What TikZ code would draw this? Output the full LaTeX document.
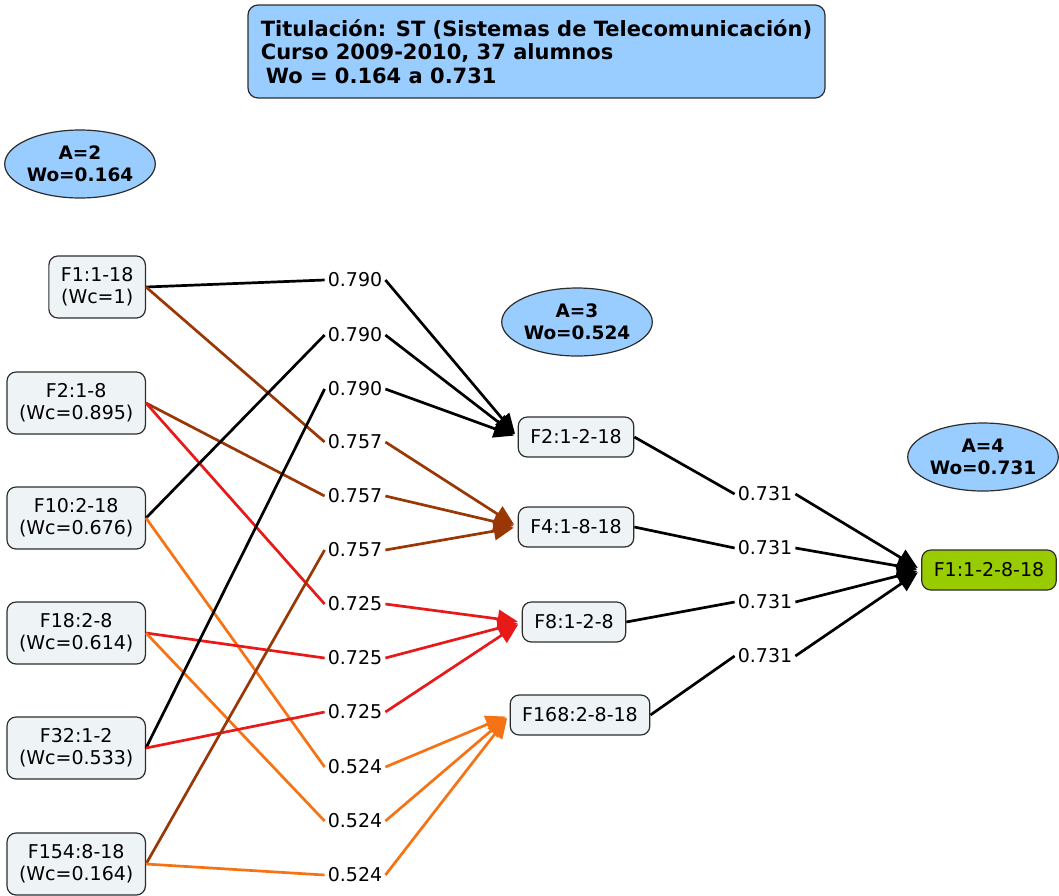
\documentclass[tikz,border=0pt]{standalone}
\usepackage{fontspec}
\setmainfont{DejaVu Sans}
\usetikzlibrary{shapes.geometric, arrows.meta, positioning}
\definecolor{cHeadFill}{RGB}{153, 204, 255}
\definecolor{cBoxFill}{RGB}{238, 243, 246}
\definecolor{cBoxDraw}{RGB}{45, 45, 45}
\definecolor{cFinalFill}{RGB}{153, 204, 0}
\definecolor{cBrown}{RGB}{153, 55, 5}
\definecolor{cRed}{RGB}{232, 25, 25}
\definecolor{cOrange}{RGB}{245, 115, 20}
\tikzset{
    font=\fontsize{19}{22}\selectfont,
    % --- cajas ---
    header/.style={
        rectangle, draw=cBoxDraw, line width=1.2pt, fill=cHeadFill,
        rounded corners=10pt, align=left,
        font=\fontsize{21}{23.5}\selectfont\bfseries,
        minimum width=577pt, minimum height=93pt
    },
    levelTag/.style={
        ellipse, draw=cBoxDraw, line width=1.2pt, fill=cHeadFill,
        align=center, font=\fontsize{18.5}{22}\selectfont\bfseries,
        minimum width=146pt, minimum height=68pt, inner sep=0pt
    },
    fsetBox/.style={
        rectangle, draw=cBoxDraw, line width=1.2pt, fill=cBoxFill,
        rounded corners=9pt, align=center,
        inner xsep=12pt, minimum height=62pt
    },
    fsetSmall/.style={ fsetBox, minimum height=40pt },
    fsetFinal/.style={ fsetSmall, fill=cFinalFill },
    %
    % --- pesos y lineas ---
    wLabel/.style={ inner sep=3pt },
    link/.style={ line width=2.7pt },
    linkArrow/.style={
        link, -{Triangle[length=20pt, width=18pt]}, shorten >=4pt
    }
}

\begin{document}
\begin{tikzpicture}[x=1pt, y=-1pt]
	\useasboundingbox (0,0) rectangle (1059,895);

	% =========================================
	% 1. Cabecera y niveles
	% =========================================
	\node[header] (title) at (536.5,51.5) {
		Titulación: ST (Sistemas de Telecomunicación)\\
		Curso 2009-2010, 37 alumnos\\
		\hspace{5pt}Wo = 0.164 a 0.731
	};

	\node[levelTag, minimum width=148pt] (lvl2) at (80,164) {A=2\\Wo=0.164};
	\node[levelTag] (lvl3) at (577,322) {A=3\\Wo=0.524};
	\node[levelTag, minimum width=134pt] (lvl4) at (983,457) {A=4\\Wo=0.731};

	% =========================================
	% 2. Conjuntos de partida (A=2)
	% =========================================
	\node[fsetBox, anchor=east] (f1) at (146,287) {F1:1-18\\(Wc=1)};
	\node[fsetBox, anchor=east] (f2) at (146,403) {F2:1-8\\(Wc=0.895)};
	\node[fsetBox, anchor=east] (f10) at (146,518) {F10:2-18\\(Wc=0.676)};
	\node[fsetBox, anchor=east] (f18) at (146,633) {F18:2-8\\(Wc=0.614)};
	\node[fsetBox, anchor=east] (f32) at (146,748) {F32:1-2\\(Wc=0.533)};
	\node[fsetBox, anchor=east] (f154) at (146,864) {F154:8-18\\(Wc=0.164)};

	% --- pesos intermedios ---
	\node[wLabel] (w790a) at (355,280) {0.790};
	\node[wLabel] (w790b) at (355,335) {0.790};
	\node[wLabel] (w790c) at (355,389) {0.790};
	\node[wLabel] (w757a) at (355,442) {0.757};
	\node[wLabel] (w757b) at (355,496) {0.757};
	\node[wLabel] (w757c) at (355,550) {0.757};
	\node[wLabel] (w725a) at (355,604) {0.725};
	\node[wLabel] (w725b) at (355,658) {0.725};
	\node[wLabel] (w725c) at (355,712) {0.725};
	\node[wLabel] (w524a) at (355,767) {0.524};
	\node[wLabel] (w524b) at (355,821) {0.524};
	\node[wLabel] (w524c) at (355,875) {0.524};

	% =========================================
	% 3. Conjuntos A=3 y A=4
	% =========================================
	\node[fsetSmall] (g2) at (576,437) {F2:1-2-18};
	\node[fsetSmall] (g4) at (576,527) {F4:1-8-18};
	\node[fsetSmall] (g8) at (574,622) {F8:1-2-8};
	\node[fsetSmall] (g168) at (580,715) {F168:2-8-18};

	\node[wLabel] (w731a) at (765,494) {0.731};
	\node[wLabel] (w731b) at (765,548) {0.731};
	\node[wLabel] (w731c) at (765,602) {0.731};
	\node[wLabel] (w731d) at (765,656) {0.731};

	\node[fsetFinal] (h1) at (989,570) {F1:1-2-8-18};

	% =========================================
	% 4. Uniones A=2 -> pesos
	% =========================================
	\draw[link] (f1.east) -- (w790a.west);
	\draw[link, cBrown] (f1.east) -- (w757a.west);

	\draw[link, cBrown] (f2.east) -- (w757b.west);
	\draw[link, cRed] (f2.east) -- (w725a.west);

	\draw[link] (f10.east) -- (w790b.west);
	\draw[link, cOrange] (f10.east) -- (w524a.west);

	\draw[link, cRed] (f18.east) -- (w725b.west);
	\draw[link, cOrange] (f18.east) -- (w524b.west);

	\draw[link] (f32.east) -- (w790c.west);
	\draw[link, cRed] (f32.east) -- (w725c.west);

	\draw[link, cBrown] (f154.east) -- (w757c.west);
	\draw[link, cOrange] (f154.east) -- (w524c.west);

	% =========================================
	% 5. Pesos -> A=3
	% =========================================
	\draw[linkArrow] (w790a.east) -- (g2.west);
	\draw[linkArrow] (w790b.east) -- (g2.west);
	\draw[linkArrow] (w790c.east) -- (g2.west);

	\draw[linkArrow, cBrown] (w757a.east) -- (g4.west);
	\draw[linkArrow, cBrown] (w757b.east) -- (g4.west);
	\draw[linkArrow, cBrown] (w757c.east) -- (g4.west);

	\draw[linkArrow, cRed] (w725a.east) -- (g8.west);
	\draw[linkArrow, cRed] (w725b.east) -- (g8.west);
	\draw[linkArrow, cRed] (w725c.east) -- (g8.west);

	\draw[linkArrow, cOrange] (w524a.east) -- (g168.west);
	\draw[linkArrow, cOrange] (w524b.east) -- (g168.west);
	\draw[linkArrow, cOrange] (w524c.east) -- (g168.west);

	% =========================================
	% 6. A=3 -> A=4
	% =========================================
	\draw[link] (g2.east) -- (w731a.west);
	\draw[link] (g4.east) -- (w731b.west);
	\draw[link] (g8.east) -- (w731c.west);
	\draw[link] (g168.east) -- (w731d.west);

	\draw[linkArrow] (w731a.east) -- (h1.west);
	\draw[linkArrow] (w731b.east) -- (h1.west);
	\draw[linkArrow] (w731c.east) -- (h1.west);
	\draw[linkArrow] (w731d.east) -- (h1.west);

\end{tikzpicture}
\end{document}
